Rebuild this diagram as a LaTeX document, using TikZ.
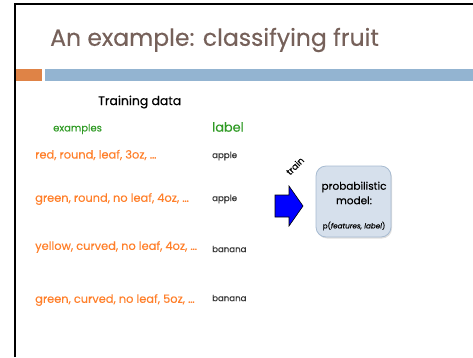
\documentclass[tikz,border=0pt]{standalone}
\usepackage{fontspec}
\setmainfont{Poppins}[FakeBold=0.3]
\usetikzlibrary{shadows}
\definecolor{titlecol}{HTML}{76615A}
\definecolor{barorange}{HTML}{DF8346}
\definecolor{barblue}{HTML}{93B4D1}
\definecolor{featcol}{HTML}{FF7F2A}
\definecolor{headgreen}{HTML}{2F9A24}
\definecolor{labgray}{HTML}{333333}
\definecolor{modelfill}{HTML}{D6E0EC}
\definecolor{modeledge}{HTML}{A7BBD1}
\tikzset{
  feat/.style={anchor=west, inner sep=0pt, text=featcol, font=\fontsize{11.4}{13}\selectfont},
  lab/.style={anchor=west, inner sep=0pt, text=labgray, font=\fontsize{8.6}{10}\selectfont},
  head/.style={inner sep=0pt, text=headgreen},
}
\begin{document}
\begin{tikzpicture}[x=1pt,y=-1pt]
\useasboundingbox (0,0) rectangle (473,357);
% slide frame
\draw[line width=2.2pt] (15,357) -- (15,4) -- (473,4);
% title
\node[anchor=west, inner sep=0pt, text=titlecol, font=\fontsize{23.5}{28}\selectfont] (title) at (50,40) {An example: classifying fruit};
% accent bars
\fill[barorange] (16,69) rectangle (42,81);
\fill[barblue] (45,69) rectangle (473,81);
% table headings
\node[anchor=west, inner sep=0pt, font=\fontsize{12.4}{14}\selectfont] (train) at (98,102) {Training data};
\node[head, anchor=west, font=\fontsize{10}{12}\selectfont] (ex) at (53,129) {examples};
\node[head, anchor=west, font=\fontsize{12.8}{15}\selectfont] (labhead) at (212,127) {label};
% examples and labels
\node[feat] (e1) at (35,155) {red, round, leaf, 3oz, …};
\node[lab] (l1) at (212,156) {apple};
\node[feat] (e2) at (35,199) {green, round, no leaf, 4oz, …};
\node[lab] (l2) at (212,199) {apple};
\node[feat] (e3) at (35,247) {yellow, curved, no leaf, 4oz, …};
\node[lab] (l3) at (212,249) {banana};
\node[feat] (e4) at (35,300) {green, curved, no leaf, 5oz, …};
\node[lab] (l4) at (212,298) {banana};
% train arrow
\coordinate (tip) at (303,206);
\draw[fill=blue, line width=0.6pt, line join=miter]
  (275,195) -- (289,195) -- (289,186) -- (tip) -- (289,226) -- (289,217) -- (275,217) -- cycle;
\node[rotate=45, inner sep=0pt, font=\fontsize{9}{10}\selectfont] (trainlab) at (295,166) {train};
% model box
\node[draw=modeledge, fill=modelfill, rounded corners=10pt, line width=0.8pt,
      minimum width=75pt, minimum height=71pt, inner sep=0pt,
      drop shadow={shadow xshift=1pt, shadow yshift=-1.5pt, opacity=0.25}] (model) at (353.5,201.5) {};
\node[align=center, inner sep=0pt, font=\fontsize{10.5}{14.5}\selectfont] (mtext) at (354,193) {probabilistic\\model:};
\node[inner sep=0pt, font=\fontsize{7.2}{8}\selectfont] (mp) at (354,226) {p(\textit{features, label})};
\end{tikzpicture}
\end{document}
